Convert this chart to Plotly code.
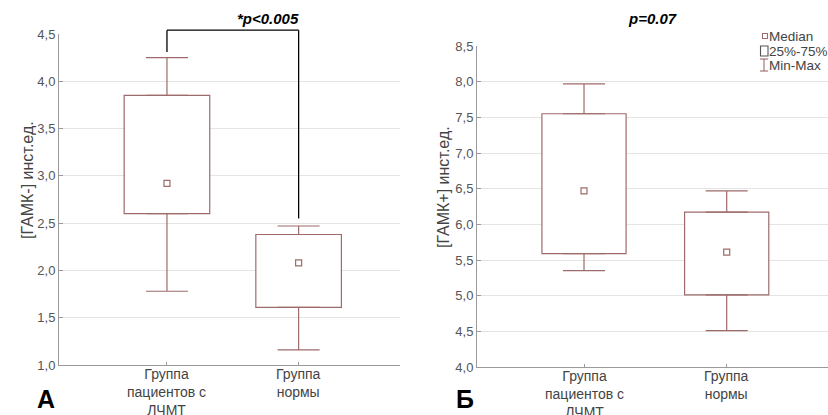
import plotly.graph_objects as go

W, H = 828, 415

# Group labels
groups = ["Группа<br>пациентов с<br>ЛЧМТ", "Группа<br>нормы"]

# Panel A: [ГАМК-]
a_min = [1.78, 1.16]
a_q1 = [2.60, 1.61]
a_med = [2.92, 2.08]
a_q3 = [3.85, 2.38]
a_max = [4.25, 2.47]

# Panel Б: [ГАМК+]
b_min = [5.35, 4.51]
b_q1 = [5.59, 5.01]
b_med = [6.47, 5.61]
b_q3 = [7.55, 6.17]
b_max = [7.97, 6.47]

a_ticks = [1.0, 1.5, 2.0, 2.5, 3.0, 3.5, 4.0, 4.5]
b_ticks = [4.0, 4.5, 5.0, 5.5, 6.0, 6.5, 7.0, 7.5, 8.0, 8.5]

BOX = "#9e6b6b"
AXIS = "#9a9a9a"
GRID = "#e4e4e4"
FONT = "Liberation Sans, Arial, sans-serif"

xs = [0, 1]
a_xr = [-0.82, 1.77]
b_xr = [-0.75, 1.71]
a_yr = [1.0, 4.5]
b_yr = [4.0, 8.5]


def px(x):
    return x / W


def py(y):
    return 1 - y / H


fig = go.Figure()


def add_panel(xa, ya, vmin, q1, med, q3, vmax, width):
    # interquartile box
    fig.add_trace(go.Bar(
        x=xs, y=[h - l for h, l in zip(q3, q1)], base=q1, width=width,
        marker=dict(color="white", line=dict(color=BOX, width=1.2)),
        xaxis=xa, yaxis=ya, showlegend=False, hoverinfo="skip"))
    # upper whisker
    fig.add_trace(go.Scatter(
        x=xs, y=q3, mode="markers", marker=dict(size=1, opacity=0),
        error_y=dict(type="data", symmetric=False,
                     array=[h - q for h, q in zip(vmax, q3)],
                     arrayminus=[0, 0], color=BOX, thickness=1.2, width=21),
        xaxis=xa, yaxis=ya, showlegend=False, hoverinfo="skip"))
    # lower whisker
    fig.add_trace(go.Scatter(
        x=xs, y=q1, mode="markers", marker=dict(size=1, opacity=0),
        error_y=dict(type="data", symmetric=False,
                     array=[0, 0],
                     arrayminus=[q - l for q, l in zip(q1, vmin)],
                     color=BOX, thickness=1.2, width=21),
        xaxis=xa, yaxis=ya, showlegend=False, hoverinfo="skip"))
    # median
    fig.add_trace(go.Scatter(
        x=xs, y=med, mode="markers",
        marker=dict(symbol="square-open", size=6, color=BOX,
                    line=dict(width=1.2, color=BOX)),
        xaxis=xa, yaxis=ya, showlegend=False, hoverinfo="skip"))


add_panel("x", "y", a_min, a_q1, a_med, a_q3, a_max, 0.65)
add_panel("x2", "y2", b_min, b_q1, b_med, b_q3, b_max, 0.59)

xcommon = dict(
    tickvals=xs, showticklabels=False, showgrid=False, zeroline=False,
    showline=True, linecolor=AXIS, linewidth=1, automargin=False,
    ticks="inside", ticklen=3, tickcolor=AXIS, fixedrange=True)
ycommon = dict(
    showgrid=True, gridcolor=GRID, gridwidth=1, zeroline=False,
    showline=True, linecolor=AXIS, linewidth=1, automargin=False,
    ticks="inside", ticklen=4, tickcolor=AXIS,
    tickfont=dict(family=FONT, size=13, color="#555"),
    fixedrange=True)

fig.update_layout(
    width=W, height=H, margin=dict(l=0, r=0, t=0, b=0, autoexpand=False),
    paper_bgcolor="white", plot_bgcolor="white", showlegend=False,
    separators=", ",
    xaxis=dict(domain=[px(59), px(400)], range=a_xr, anchor="y", **xcommon),
    yaxis=dict(domain=[py(365), py(34)], range=a_yr, anchor="x",
               tickvals=a_ticks, tickformat=".1f", **ycommon),
    xaxis2=dict(domain=[px(477), 1.0], range=b_xr, anchor="y2", **xcommon),
    yaxis2=dict(domain=[py(367), py(46)], range=b_yr, anchor="x2",
                tickvals=b_ticks, tickformat=".1f", **ycommon),
)

# category labels under each axis
for xref, ybase in (("x", 365), ("x2", 367)):
    for xv, label in zip(xs, groups):
        fig.add_annotation(text=label, xref=xref, yref="paper", x=xv,
                           y=py(ybase), xanchor="center", yanchor="top",
                           showarrow=False, borderpad=0,
                           font=dict(family=FONT, size=14, color="#444"))


def dom(v, rng):
    return (v - rng[0]) / (rng[1] - rng[0])


# significance bracket between the two groups of panel A
top = a_yr[1] + 0.04
left_end = a_max[0] + 0.06
right_end = a_max[1] + 0.08
bx0, bx1 = dom(xs[0], a_xr), dom(xs[1], a_xr)
for (x0, y0, x1, y1) in [
    (bx0, dom(left_end, a_yr), bx0, dom(top, a_yr)),
    (bx0, dom(top, a_yr), bx1, dom(top, a_yr)),
    (bx1, dom(top, a_yr), bx1, dom(right_end, a_yr)),
]:
    fig.add_shape(type="line", xref="x domain", yref="y domain",
                  x0=x0, y0=y0, x1=x1, y1=y1,
                  line=dict(color="black", width=1.3))

annotations = [
    dict(text="<b><i>*p<0.005</i></b>", x=px(268), y=py(19),
         font=dict(size=15, color="black")),
    dict(text="<b><i>p=0.07</i></b>", x=px(652), y=py(19),
         font=dict(size=15, color="black")),
    dict(text="[ГАМК-] инст.ед.", x=px(27), y=py(180), textangle=-90,
         font=dict(size=16, color="#444")),
    dict(text="[ГАМК+] инст.ед.", x=px(444), y=py(187), textangle=-90,
         font=dict(size=16, color="#444")),
    dict(text="<b>А</b>", x=px(46), y=py(399),
         font=dict(size=25, color="black")),
    dict(text="<b>Б</b>", x=px(465), y=py(399),
         font=dict(size=25, color="black")),
]
for a in annotations:
    a.update(xref="paper", yref="paper", showarrow=False,
             xanchor="center", yanchor="middle")
    a["font"]["family"] = FONT
    fig.add_annotation(**a)

# legend
legend_items = ["Median", "25%-75%", "Min-Max"]
legend_y = [36, 51, 65]
for name, yy in zip(legend_items, legend_y):
    fig.add_annotation(text=name, xref="paper", yref="paper",
                       x=px(768), y=py(yy), xanchor="left", yanchor="middle",
                       showarrow=False, height=14, borderpad=0,
                       font=dict(family=FONT, size=13.5, color="#444"))
# median symbol
fig.add_shape(type="rect", xref="paper", yref="paper",
              x0=px(762.5), x1=px(767.5), y0=py(38.5), y1=py(33.5),
              line=dict(color=BOX, width=1.1), fillcolor="white")
# box symbol
fig.add_shape(type="rect", xref="paper", yref="paper",
              x0=px(760.5), x1=px(768), y0=py(56), y1=py(46),
              line=dict(color="#555", width=1.1), fillcolor="white")
# whisker symbol
for (x0, y0, x1, y1) in [(764, 59, 764, 71), (760, 59, 768, 59),
                         (760, 71, 768, 71)]:
    fig.add_shape(type="line", xref="paper", yref="paper",
                  x0=px(x0), y0=py(y0), x1=px(x1), y1=py(y1),
                  line=dict(color=BOX, width=1.1))

fig.write_html("out.html", config={"displayModeBar": False})
